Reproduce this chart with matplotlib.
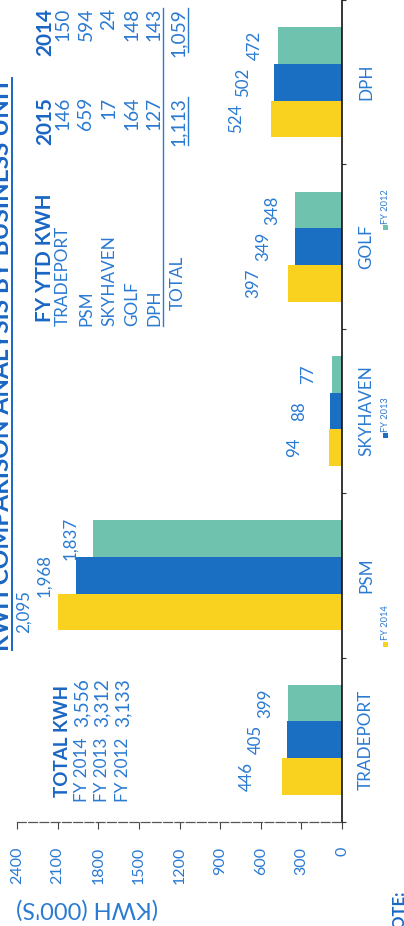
import numpy as np
import matplotlib
matplotlib.use("Agg")
import matplotlib.pyplot as plt
import matplotlib.transforms as mtrans
from matplotlib.textpath import TextPath
from matplotlib.font_manager import FontProperties
from matplotlib.lines import Line2D
from matplotlib.patches import Rectangle

# ---------------- data ----------------
categories = ["TRADEPORT", "PSM", "SKYHAVEN", "GOLF", "DPH"]
series_names = ["FY 2014", "FY 2013", "FY 2012"]
fy2014 = [446, 2095, 94, 397, 524]
fy2013 = [405, 1968, 88, 349, 502]
fy2012 = [399, 1837, 77, 348, 472]
value_ticks = [0, 300, 600, 900, 1200, 1500, 1800, 2100, 2400]

ytd_units = ["TRADEPORT", "PSM", "SKYHAVEN", "GOLF", "DPH"]
ytd_2015 = [146, 659, 17, 164, 127]
ytd_2014 = [150, 594, 24, 148, 143]

total_labels = ["FY 2014", "FY 2013", "FY 2012"]
total_kwh = [3556, 3312, 3133]

title = "KWH COMPARISON ANALYSIS BY BUSINESS UNIT"
axis_label = "(KWH (000'S)"

# ---------------- style ----------------
W, H, DPI = 404, 926, 100
FAM = "Lato"
YEL, BLU, TEAL = "#F8D21F", "#1B6FC2", "#6FC3AE"
TXT = "#2A7AD2"
TXTB = "#1A66C4"
colors = [YEL, BLU, TEAL]

fig = plt.figure(figsize=(W / DPI, H / DPI), dpi=DPI)
fig.patch.set_facecolor("white")


def fit(s, target, weight="normal"):
    fp = FontProperties(family=FAM, weight=weight)
    w = TextPath((0, 0), s, size=10, prop=fp).get_extents().width
    return 10 * target / (w * DPI / 72)


def T(x, y, s, size, ha="left", va="center", rot=90, color=TXT, weight="normal"):
    fig.text(x / W, 1 - y / H, s, fontsize=size, ha=ha, va=va, rotation=rot,
             rotation_mode="anchor", color=color, family=FAM, fontweight=weight)


def L(x0, y0, x1, y1, color=TXT, lw=1.0):
    fig.add_artist(Line2D([x0 / W, x1 / W], [1 - y0 / H, 1 - y1 / H],
                          transform=fig.transFigure, color=color, lw=lw))


# ---------------- chart ----------------
x0, x1, ybot = 17, 342, 822
ax = fig.add_axes([x0 / W, (H - ybot) / H, (x1 - x0) / W, ybot / H])
n = len(categories)
pos = np.arange(n)
bw = 0.223
series = [fy2014, fy2013, fy2012]
for i, (vals, col) in enumerate(zip(series, colors)):
    ax.barh(pos + (i - 1) * bw, vals, height=bw, color=col, linewidth=0)

ax.set_xlim(2400, 0)
ax.set_ylim(-0.5, n - 0.5)
for s in ["top", "left"]:
    ax.spines[s].set_visible(False)
ax.spines["right"].set_color("black")
ax.spines["right"].set_linewidth(1.1)
ax.spines["bottom"].set_color("#555555")
ax.spines["bottom"].set_linewidth(0.9)
ax.spines["bottom"].set_linestyle((0, (7, 2)))

tick_fs = fit("2400", 36)
ax.set_xticks(value_ticks)
ax.set_xticklabels([str(v) for v in value_ticks], rotation=90,
                   fontsize=tick_fs, color=TXT, family=FAM)
ax.tick_params(axis="x", direction="out", length=5, width=0.8, color="#444444", pad=13)
ax.set_yticks(np.arange(n + 1) - 0.5)
ax.tick_params(axis="y", left=False, right=True, labelleft=False, direction="out",
               length=3, width=0.8, color="#333333")

# value labels
val_fs = fit("1,837", 41)
offsets_px = [35, 31, 23]
for i, vals in enumerate(series):
    for j, v in enumerate(vals):
        ax.annotate(f"{v:,}", xy=(v, pos[j] + (i - 1) * bw),
                    xytext=(-offsets_px[i] * 72 / DPI, 0), textcoords="offset points",
                    rotation=90, ha="center", va="center", fontsize=val_fs,
                    color=TXT, family=FAM)

# category labels
cat_fs = fit("TRADEPORT", 100)
trans = mtrans.blended_transform_factory(fig.transFigure, ax.transData)
for j, c in enumerate(categories):
    ax.text(366 / W, pos[j], c, transform=trans, rotation=90, ha="center",
            va="center", fontsize=cat_fs, color=TXT, family=FAM, clip_on=False)

# legend
leg_fs = fit("FY 2014", 34)
for i, name in enumerate(series_names):
    ym = 644 - i * 208
    fig.add_artist(Rectangle(((385 - 2.5) / W, 1 - (ym + 2.5) / H), 5 / W, 5 / H,
                             transform=fig.transFigure, color=colors[i], lw=0))
    T(386, ym - 4, name, leg_fs, ha="left", va="center")

# axis label
T(87, 908, axis_label, fit(axis_label, 140), ha="center", va="center", rot=180)

# ---------------- title ----------------
tfs = fit(title, 572, "bold")
T(9, 364, title, tfs, ha="center", va="baseline", weight="bold", color=TXTB)
L(12, 78, 12, 650, color=TXTB, lw=1.4)

# ---------------- YTD table ----------------
hdr_fs = fit("FY YTD KWH", 126, "bold")
num_fs = fit("1,113", 46)
T(45, 322, "FY YTD KWH", hdr_fs, ha="left", weight="bold", color=TXTB)
T(45, 97, "2015", hdr_fs, ha="right", weight="bold", color=TXTB)
T(45, 8, "2014", hdr_fs, ha="right", weight="bold", color=TXTB)
row_x = [63, 86, 109, 132, 154]
for k, u in enumerate(ytd_units):
    T(row_x[k], 326, u, cat_fs, ha="left")
    T(row_x[k], 97, f"{ytd_2015[k]:,}", num_fs, ha="right")
    T(row_x[k], 8, f"{ytd_2014[k]:,}", num_fs, ha="right")
L(163, 8, 163, 326)
T(178, 310, "TOTAL", cat_fs, ha="left")
T(178, 97, f"{sum(ytd_2015):,}", num_fs, ha="right")
T(178, 8, f"{sum(ytd_2014):,}", num_fs, ha="right")
L(188, 97, 188, 145)
L(188, 8, 188, 52)

# ---------------- total box ----------------
T(62, 797, "TOTAL KWH", fit("TOTAL KWH", 110, "bold"), ha="left", weight="bold", color=TXTB)
tot_x = [82, 102, 123]
for k, lab in enumerate(total_labels):
    T(tot_x[k], 802, lab, cat_fs, ha="left")
    T(tot_x[k], 678, f"{total_kwh[k]:,}", num_fs, ha="right")

# ---------------- note ----------------
T(399, 890, "NOTE:", fit("OTE:", 36, "bold"), ha="right", weight="bold", color=TXTB)

fig.savefig("out.png", dpi=DPI)
